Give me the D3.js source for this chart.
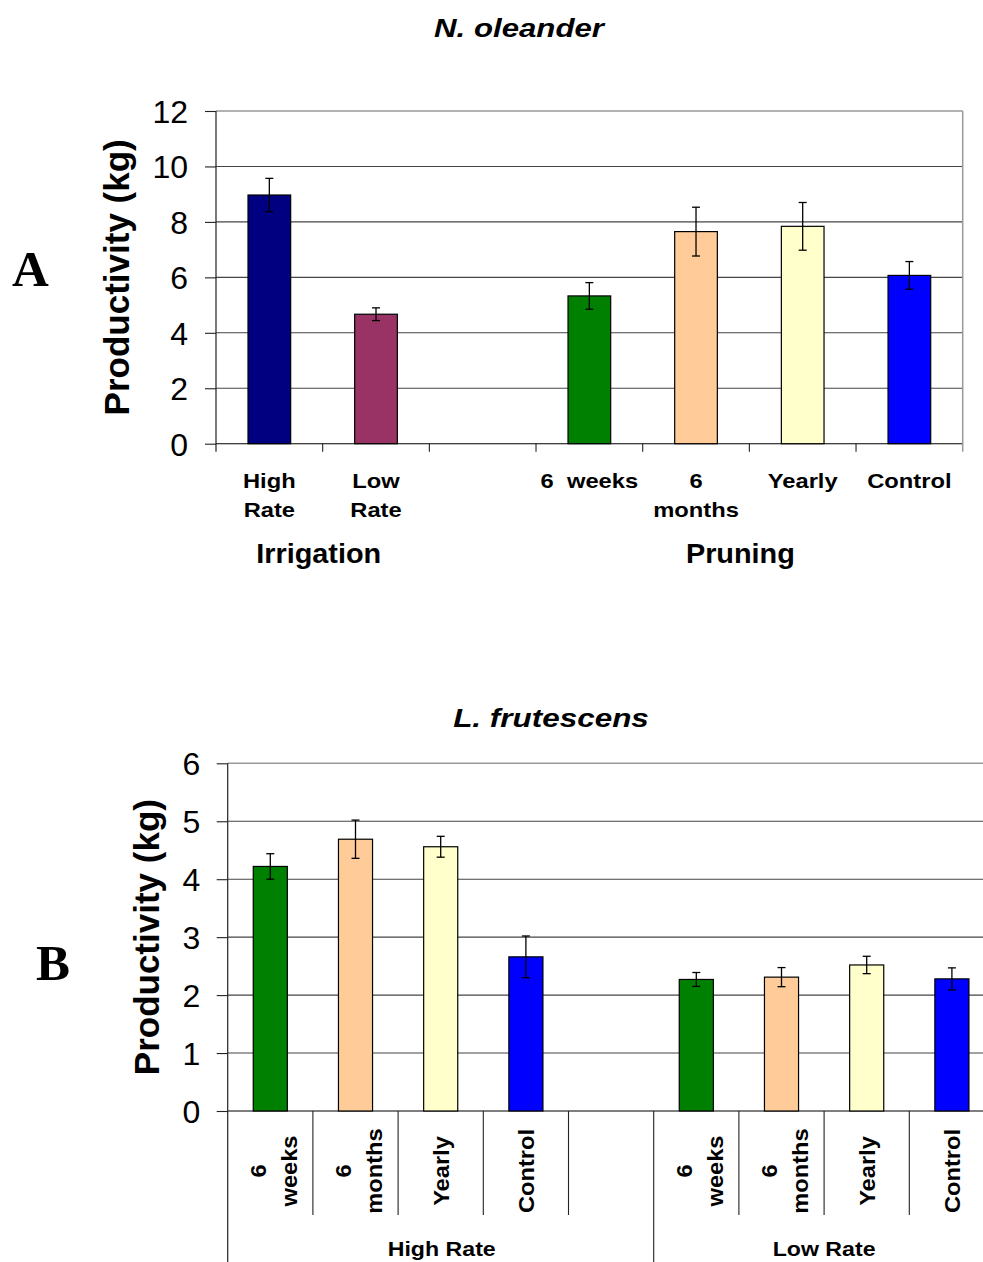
<!DOCTYPE html>
<html>
<head>
<meta charset="utf-8">
<script src="https://cdn.jsdelivr.net/npm/d3@7"></script>
<style>
  html, body { margin: 0; padding: 0; background: #fff; }
  svg { display: block; }
  text { font-family: "Liberation Sans", Arial, Helvetica, sans-serif; fill: #000; }
</style>
</head>
<body>
<svg id="chart" width="983" height="1262"></svg>
<script>
// ---------------- DATA ----------------
// Panel A: N. oleander
const topTitle = "N. oleander";
const topCategories = ["High Rate", "Low Rate", "gap", "6 weeks", "6 months", "Yearly", "Control"];
const topLabelLines = [["High", "Rate"], ["Low", "Rate"], [], ["6  weeks"], ["6", "months"], ["Yearly"], ["Control"]];
const topValues = [8.97, 4.67, null, 5.33, 7.65, 7.84, 6.07];
const topErrors = [0.60, 0.23, null, 0.48, 0.88, 0.86, 0.50];
const topColors = ["#000080", "#993366", null, "#008000", "#FFCC99", "#FFFFCC", "#0000FF"];
const topTicks = [0, 2, 4, 6, 8, 10, 12];
const topGroups = ["Irrigation", "Pruning"];

// Panel B: L. frutescens
const botTitle = "L. frutescens";
const botCategories = ["HR 6 weeks", "HR 6 months", "HR Yearly", "HR Control", "gap",
                       "LR 6 weeks", "LR 6 months", "LR Yearly", "LR Control"];
const botLabelLines = [["6", "weeks"], ["6", "months"], ["Yearly"], ["Control"], [],
                       ["6", "weeks"], ["6", "months"], ["Yearly"], ["Control"]];
const botValues = [4.22, 4.69, 4.56, 2.66, null, 2.27, 2.31, 2.52, 2.28];
const botErrors = [0.22, 0.33, 0.18, 0.36, null, 0.12, 0.165, 0.15, 0.19];
const botColors = ["#008000", "#FFCC99", "#FFFFCC", "#0000FF", null, "#008000", "#FFCC99", "#FFFFCC", "#0000FF"];
const botTicks = [0, 1, 2, 3, 4, 5, 6];
const botGroups = ["High Rate", "Low Rate"];
const yLabel = "Productivity (kg)";

// ---------------- DRAW ----------------
const svg = d3.select("#chart");

function drawBars(g, cats, vals, errs, cols, x, y) {
  const data = cats.map((c, i) => ({c, v: vals[i], e: errs[i], col: cols[i]})).filter(d => d.v != null);
  g.selectAll("rect.bar").data(data).join("rect")
    .attr("class", "bar")
    .attr("x", d => x(d.c))
    .attr("width", x.bandwidth())
    .attr("y", d => y(d.v))
    .attr("height", d => y(0) - y(d.v))
    .attr("fill", d => d.col)
    .attr("stroke", "#000")
    .attr("stroke-width", 1.2);
  const eb = g.selectAll("g.err").data(data).join("g").attr("class", "err")
    .attr("stroke", "#000").attr("stroke-width", 1.3);
  eb.append("line")
    .attr("x1", d => x(d.c) + x.bandwidth() / 2).attr("x2", d => x(d.c) + x.bandwidth() / 2)
    .attr("y1", d => y(d.v + d.e)).attr("y2", d => y(d.v - d.e));
  eb.append("line")
    .attr("x1", d => x(d.c) + x.bandwidth() / 2 - 4).attr("x2", d => x(d.c) + x.bandwidth() / 2 + 4)
    .attr("y1", d => y(d.v + d.e)).attr("y2", d => y(d.v + d.e));
  eb.append("line")
    .attr("x1", d => x(d.c) + x.bandwidth() / 2 - 4).attr("x2", d => x(d.c) + x.bandwidth() / 2 + 4)
    .attr("y1", d => y(d.v - d.e)).attr("y2", d => y(d.v - d.e));
}

function grid(g, y, ticks, x0, x1) {
  const top = d3.max(ticks);
  g.selectAll("line.grid").data(ticks).join("line")
    .attr("class", "grid")
    .attr("x1", x0).attr("x2", x1)
    .attr("y1", d => y(d)).attr("y2", d => y(d))
    .attr("stroke", d => d === top ? "#999" : (d === 0 ? "#000" : "#444"))
    .attr("stroke-width", d => d === top ? 1.5 : 1.1);
}

function yAxis(g, y, ticks, x0, padding) {
  const ax = d3.axisLeft(y).tickValues(ticks).tickSize(11).tickPadding(padding).tickFormat(d3.format("d"));
  const a = g.append("g").attr("transform", `translate(${x0},0)`).call(ax);
  a.select(".domain").remove();
  a.selectAll(".tick line").attr("stroke", "#222").attr("stroke-width", 1.1);
  a.selectAll(".tick text")
    .style("font-size", "32px")
    .style("font-family", "'Liberation Sans', Arial, sans-serif")
    .attr("fill", "#000")
    .attr("dy", "0.36em");
}

// horizontally stretched bold text (reference glyphs are wider than Arial)
function wideText(g, x, y, str, size, sx, opts = {}) {
  const t = g.append("text")
    .attr("transform", `translate(${x},${y}) scale(${sx},1)`)
    .attr("text-anchor", "middle")
    .style("font-size", size + "px").style("font-weight", "bold")
    .style("white-space", "pre");
  if (opts.italic) t.style("font-style", "italic");
  t.text(str);
  return t;
}

// ======== Panel A ========
{
  const g = svg.append("g");
  const x = d3.scaleBand().domain(topCategories).range([216, 962.7]).paddingInner(0.6).paddingOuter(0.3);
  const y = d3.scaleLinear().domain([0, 12]).range([443.7, 111]);
  const x0 = x.range()[0], x1 = x.range()[1];

  grid(g, y, topTicks, x0, x1);
  g.append("line").attr("x1", x1).attr("x2", x1).attr("y1", y(12)).attr("y2", y(0) + 8)
    .attr("stroke", "#999").attr("stroke-width", 1.5);
  g.append("line").attr("x1", x0).attr("x2", x0).attr("y1", y(12)).attr("y2", y(0) + 8)
    .attr("stroke", "#222").attr("stroke-width", 1.2);
  yAxis(g, y, topTicks, x0, 17);

  const bounds = d3.range(topCategories.length + 1).map(i => x0 + i * x.step());
  g.selectAll("line.xt").data(bounds.slice(1, -1)).join("line")
    .attr("class", "xt")
    .attr("x1", d => d).attr("x2", d => d)
    .attr("y1", y(0)).attr("y2", y(0) + 8)
    .attr("stroke", "#222").attr("stroke-width", 1.1);

  drawBars(g, topCategories, topValues, topErrors, topColors, x, y);

  topCategories.forEach((c, i) => {
    const lines = topLabelLines[i];
    lines.forEach((l, j) => {
      wideText(g, x(c) + x.bandwidth() / 2, 488.3 + j * 29, l, 21, 1.13);
    });
  });

  const irrX = (x("High Rate") + x("Low Rate") + x.bandwidth()) / 2 - 4;
  const prX = (x("6 weeks") + x("Control") + x.bandwidth()) / 2 - 9;
  wideText(g, irrX, 563.3, topGroups[0], 28, 1.03);
  wideText(g, prX, 563.3, topGroups[1], 28, 1.03);

  g.append("text")
    .attr("transform", `translate(128.5,${(y(0) + y(12)) / 2}) rotate(-90)`)
    .attr("text-anchor", "middle")
    .style("font-size", "35px").style("font-weight", "bold")
    .text(yLabel);

  wideText(g, 519, 36.7, topTitle, 26, 1.2, {italic: true});

  g.append("text").attr("x", 12).attr("y", 286)
    .style("font-family", "'Liberation Serif', 'Times New Roman', serif")
    .style("font-size", "51px").style("font-weight", "bold")
    .text("A");
}

// ======== Panel B ========
{
  const g = svg.append("g");
  const x = d3.scaleBand().domain(botCategories).range([227.7, 994.5]).paddingInner(0.6).paddingOuter(0.3);
  const y = d3.scaleLinear().domain([0, 6]).range([1111, 763.3]);
  const x0 = x.range()[0], x1 = x.range()[1];

  grid(g, y, botTicks, x0, x1);
  yAxis(g, y, botTicks, x0, 16.5);

  g.append("line").attr("x1", x0).attr("x2", x0).attr("y1", y(6)).attr("y2", 1262)
    .attr("stroke", "#222").attr("stroke-width", 1.2);

  const bounds = d3.range(botCategories.length + 1).map(i => x0 + i * x.step());
  g.selectAll("line.xt").data(bounds.slice(1)).join("line")
    .attr("class", "xt")
    .attr("x1", d => d).attr("x2", d => d)
    .attr("y1", y(0))
    .attr("y2", (d, i) => (i === 4 || i === 8) ? 1262 : 1215)
    .attr("stroke", "#222").attr("stroke-width", 1.1);

  drawBars(g, botCategories, botValues, botErrors, botColors, x, y);

  botCategories.forEach((c, i) => {
    const lines = botLabelLines[i];
    if (!lines.length) return;
    const cx = x(c) + x.bandwidth() / 2;
    const offs = lines.length === 2 ? [-4.5, 26.5] : [8];
    const t = g.append("text")
      .attr("transform", `translate(${cx},1171) rotate(-90) scale(1.1,1)`)
      .attr("text-anchor", "middle")
      .style("font-size", "21.5px").style("font-weight", "bold");
    lines.forEach((l, j) => {
      t.append("tspan").attr("x", 0).attr("y", offs[j]).text(l);
    });
  });

  const hrX = (x0 + bounds[5]) / 2 + 1;
  const lrX = (bounds[5] + bounds[9]) / 2;
  wideText(g, hrX, 1255.7, botGroups[0], 20.5, 1.13);
  wideText(g, lrX, 1255.7, botGroups[1], 20.5, 1.13);

  g.append("text")
    .attr("transform", `translate(159,${(y(0) + y(6)) / 2}) rotate(-90)`)
    .attr("text-anchor", "middle")
    .style("font-size", "35px").style("font-weight", "bold")
    .text(yLabel);

  wideText(g, 551, 726.7, botTitle, 26, 1.21, {italic: true});

  g.append("text").attr("x", 36).attr("y", 980)
    .style("font-family", "'Liberation Serif', 'Times New Roman', serif")
    .style("font-size", "51px").style("font-weight", "bold")
    .text("B");
}
</script>
</body>
</html>
